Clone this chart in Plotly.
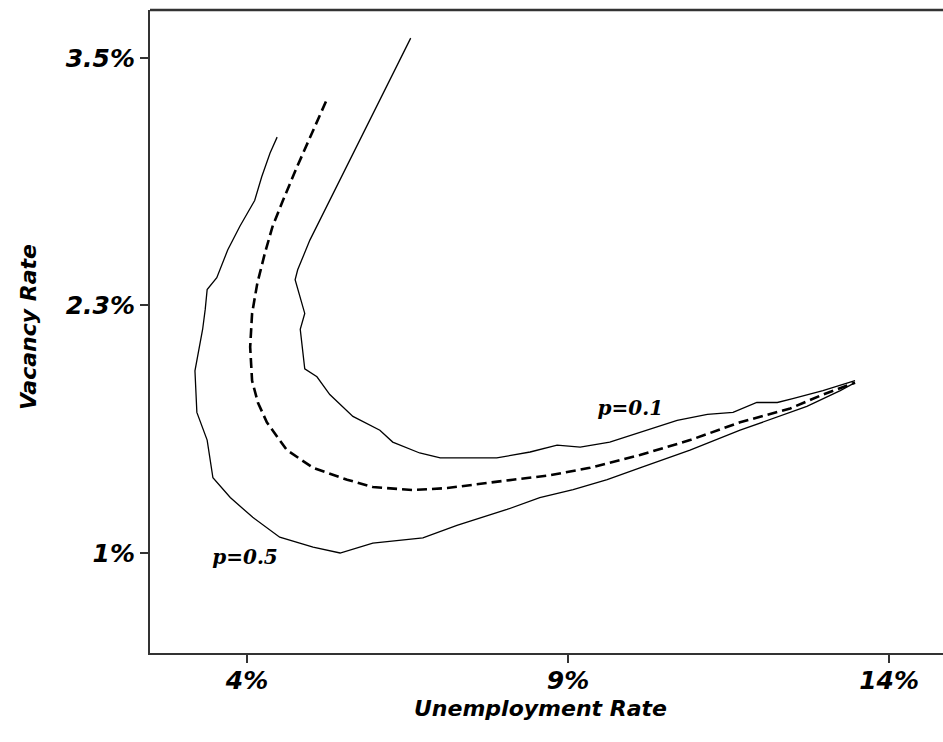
import plotly.graph_objects as go

# Beveridge-curve paths: unemployment rate (%) vs vacancy rate (%)
u_p01 = [6.55, 6.15, 5.68, 5.29, 4.98, 4.79, 4.75, 4.90, 4.83, 4.90, 5.09, 5.29, 5.65,
         6.07, 6.27, 6.69, 7.01, 7.89, 8.41, 8.83, 9.19, 9.65, 10.23, 10.70, 11.17,
         11.57, 11.94, 12.26, 12.50, 12.97, 13.47]
v_p01 = [3.60, 3.34, 3.035, 2.78, 2.58, 2.43, 2.38, 2.21, 2.13, 1.93, 1.89, 1.80, 1.69,
         1.62, 1.56, 1.505, 1.48, 1.48, 1.51, 1.545, 1.535, 1.56, 1.62, 1.67, 1.70,
         1.71, 1.76, 1.76, 1.78, 1.82, 1.87]

u_mid = [5.23, 4.98, 4.78, 4.56, 4.40, 4.28, 4.16, 4.08, 4.05, 4.08, 4.17, 4.31, 4.62,
         5.03, 5.56, 5.96, 6.59, 7.12, 7.63, 8.14, 8.67, 9.34, 10.12, 10.90, 11.68,
         12.46, 12.97, 13.47]
v_mid = [3.28, 3.10, 2.95, 2.78, 2.65, 2.515, 2.36, 2.21, 2.04, 1.87, 1.76, 1.66, 1.52,
         1.43, 1.37, 1.333, 1.318, 1.328, 1.35, 1.37, 1.39, 1.43, 1.495, 1.57, 1.66,
         1.73, 1.80, 1.86]

u_p05 = [4.47, 4.36, 4.23, 4.12, 3.89, 3.70, 3.53, 3.38, 3.35, 3.31, 3.19, 3.22, 3.38,
         3.47, 3.74, 4.09, 4.51, 5.03, 5.45, 5.96, 6.74, 7.27, 8.05, 8.56, 9.08, 9.61,
         10.12, 10.90, 11.68, 12.19, 12.72, 13.24, 13.47]
v_p05 = [3.10, 3.02, 2.90, 2.78, 2.65, 2.53, 2.39, 2.33, 2.23, 2.13, 1.92, 1.71, 1.57,
         1.38, 1.28, 1.18, 1.08, 1.03, 1.00, 1.05, 1.076, 1.14, 1.22, 1.28, 1.32, 1.37,
         1.43, 1.52, 1.62, 1.68, 1.74, 1.82, 1.86]

x_ticks = [4, 9, 14]
x_tick_text = ["4%", "9%", "14%"]
y_ticks = [1, 2.25, 3.5]
y_tick_text = ["1%", "2.3%", "3.5%"]

curve_labels = ["p=0.1", "p=0.5"]
label_u = [9.97, 3.97]
label_v = [1.72, 0.97]

fig = go.Figure()
fig.add_trace(go.Scatter(x=u_p01, y=v_p01, mode="lines",
                         line=dict(color="black", width=1.3), showlegend=False))
fig.add_trace(go.Scatter(x=u_mid, y=v_mid, mode="lines",
                         line=dict(color="black", width=2.6, dash="10px,5px"),
                         showlegend=False))
fig.add_trace(go.Scatter(x=u_p05, y=v_p05, mode="lines",
                         line=dict(color="black", width=1.3), showlegend=False))
fig.add_trace(go.Scatter(x=label_u, y=label_v, mode="text", text=curve_labels,
                         textfont=dict(family="DejaVu Serif", size=20, color="black",
                                       weight="bold", style="italic"),
                         showlegend=False))

tick_font = dict(family="DejaVu Sans", size=25, color="black", weight="bold", style="italic")
title_font = dict(family="DejaVu Sans", size=22, color="black", weight="bold", style="italic")

fig.update_xaxes(range=[2.49, 14.84], tickvals=x_ticks, ticktext=x_tick_text,
                 ticks="outside", ticklen=8, tickwidth=1.5, tickcolor="#333",
                 ticklabelstandoff=-4,
                 showline=True, linewidth=2, linecolor="#333", mirror=False,
                 showgrid=False, zeroline=False, tickfont=tick_font)
fig.update_yaxes(range=[0.495, 3.742], tickvals=y_ticks, ticktext=y_tick_text,
                 ticks="outside", ticklen=8, tickwidth=1.5, tickcolor="#333",
                 showline=True, linewidth=2, linecolor="#333", mirror=False,
                 showgrid=False, zeroline=False, tickfont=tick_font)

# top frame edge, left open on the right side
fig.add_shape(type="line", xref="paper", yref="paper", x0=0, x1=1.02, y0=1, y1=1,
              line=dict(color="#333", width=2.5))

fig.add_annotation(text="Unemployment Rate", xref="paper", yref="paper",
                   x=(540 - 150) / 793, y=-(709 - 653) / 643, showarrow=False,
                   xanchor="center", yanchor="middle", font=title_font)
fig.add_annotation(text="Vacancy Rate", xref="paper", yref="paper",
                   x=-(150 - 28) / 793, y=(653 - 327) / 643, showarrow=False,
                   xanchor="center", yanchor="middle", textangle=-90, font=title_font)

fig.update_layout(width=943, height=742, margin=dict(l=150, r=0, t=10, b=89),
                  plot_bgcolor="white", paper_bgcolor="white")

fig.write_html("out.html")
